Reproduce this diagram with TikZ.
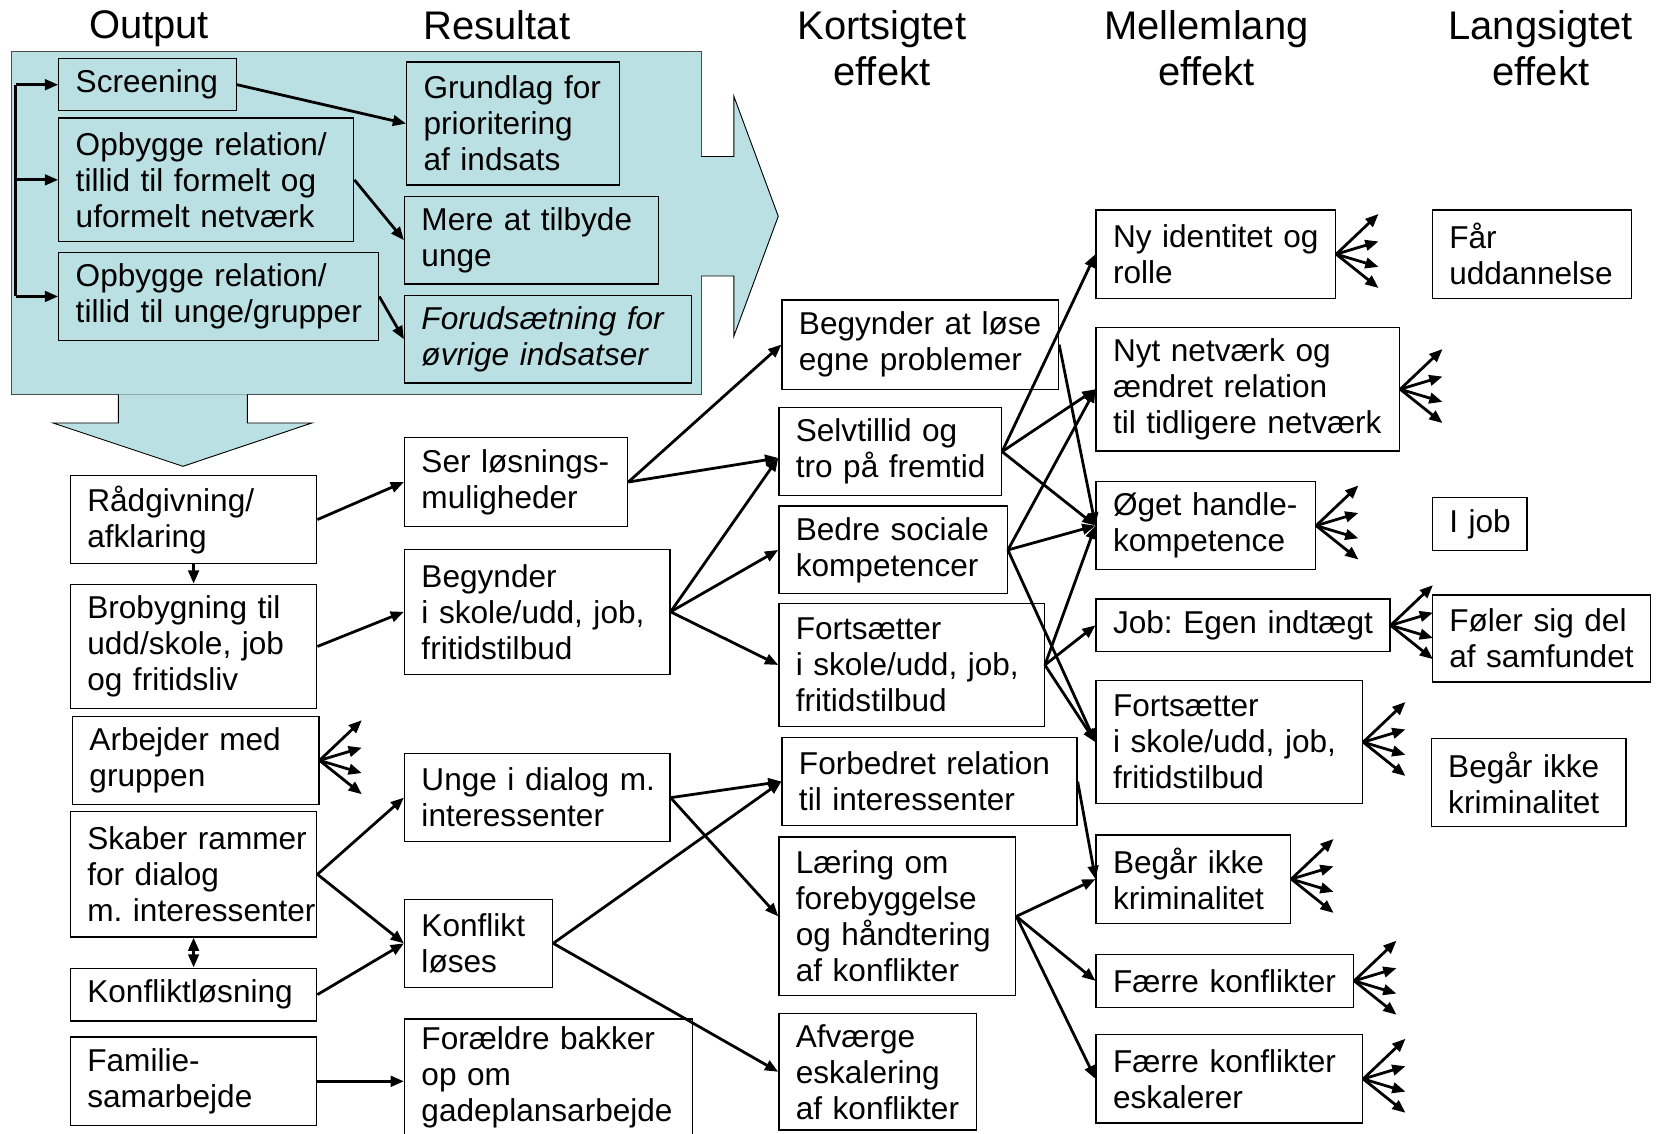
\documentclass[tikz,border=0pt]{standalone}
\usepackage{fontspec}
\setmainfont{Liberation Sans}
\usetikzlibrary{arrows.meta}
\definecolor{panelteal}{RGB}{187,224,227}

\newcommand{\fan}[1]{%
  \foreach \dy [count=\i] in {-38,-12,12,32} {
    \coordinate (#1f\i) at ([shift={(40,\dy)}]#1.east);
    \draw[arr] (#1.east) -- (#1f\i);
  }}

\begin{document}
\begin{tikzpicture}[x=0.02cm, y=-0.02cm,
    bx/.style={draw, line width=0.7pt, anchor=north west, inner xsep=0pt, inner ysep=0pt,
      align=left, font=\fontsize{17}{19.4}\selectfont\frenchspacing, execute at begin node={\leftskip=0.32cm}},
    hd/.style={anchor=north, inner sep=0pt, align=center, font=\fontsize{21.5}{24.5}\selectfont},
    arr/.style={-{Triangle[length=0.25cm,width=0.2cm]}, line width=1.5pt},
    blk/.style={fill=panelteal, draw=black, line width=0.5pt}]
        \useasboundingbox (0,0) rectangle (1568,1072);
        \clip (0,0) rectangle (1568,1072);

        \node[hd] (hout) at (141,10) {Output};
        \node[hd] (hres) at (470,10) {Resultat};
        \node[hd] (hkort) at (834,10) {Kortsigtet\\effekt};
        \node[hd] (hmell) at (1141,10) {Mellemlang\\effekt};
        \node[hd] (hlang) at (1457,10) {Langsigtet\\effekt};

        \fill[panelteal] (11,49) rectangle (663,373);
        \draw[black!70, line width=0.6pt] (11,49) rectangle (663,373);
        \filldraw[blk] (663,148) -- (694,148) -- (694,91) -- (736,204.5) -- (694,318) -- (694,261) -- (663,261);
        \filldraw[blk] (112,373) -- (112,400) -- (50,400) -- (173,441) -- (295,400) -- (234,400) -- (234,373);

        \node[bx, text width=3.36cm, minimum height=0.98cm] (scr) at (55,55) {Screening};
        \node[bx, text width=5.58cm, minimum height=2.34cm] (opb1) at (55,111) {Opbygge relation/\\tillid til formelt og\\uformelt netværk};
        \node[bx, text width=6.05cm, minimum height=1.67cm] (opb2) at (55,238) {Opbygge relation/\\tillid til unge/grupper};
        \node[bx, text width=4.02cm, minimum height=2.33cm] (grund) at (384,58) {Grundlag for\\prioritering\\af indsats};
        \node[bx, text width=4.80cm, minimum height=1.66cm] (mere) at (382,185) {Mere at tilbyde\\unge};
        \node[bx, text width=5.43cm, minimum height=1.65cm] (foru) at (382,279) {\itshape Forudsætning for\\øvrige indsatser};

        \node[bx, text width=4.66cm, minimum height=1.67cm] (raad) at (66,449) {Rådgivning/\\afklaring};
        \node[bx, text width=4.66cm, minimum height=2.35cm] (bro) at (66,552) {Brobygning til\\udd/skole, job\\og fritidsliv};
        \node[bx, text width=4.66cm, minimum height=1.66cm] (arb) at (68,677) {Arbejder med\\gruppen};
        \node[bx, text width=4.66cm, minimum height=2.37cm] (skab) at (66,767) {Skaber rammer\\for dialog\\m.~interessenter};
        \node[bx, text width=4.66cm, minimum height=1.0cm] (konfl) at (66,915) {Konfliktløsning};
        \node[bx, text width=4.66cm, minimum height=1.68cm] (fam) at (66,980) {Familie-\\samarbejde};

        \node[bx, text width=4.22cm, minimum height=1.69cm] (ser) at (382,413) {Ser løsnings-\\muligheder};
        \node[bx, text width=5.02cm, minimum height=2.36cm] (begy) at (382,519) {Begynder\\i skole/udd, job,\\fritidstilbud};
        \node[bx, text width=5.02cm, minimum height=1.67cm] (unge) at (382,712) {Unge i dialog m.\\interessenter};
        \node[bx, text width=2.80cm, minimum height=1.66cm] (losn) at (382,850) {Konflikt\\løses};
        \node[bx, text width=5.45cm, minimum height=2.2cm] (forae) at (382,963) {Forældre bakker\\op om\\gadeplansarbejde};

        \node[bx, text width=5.23cm, minimum height=1.69cm] (blose) at (739,283) {Begynder at løse\\egne problemer};
        \node[bx, text width=4.21cm, minimum height=1.66cm] (selv) at (736,385) {Selvtillid og\\tro på fremtid};
        \node[bx, text width=4.32cm, minimum height=1.66cm] (bedre) at (736,478) {Bedre sociale\\kompetencer};
        \node[bx, text width=5.02cm, minimum height=2.33cm] (forts1) at (736,570) {Fortsætter\\i skole/udd, job,\\fritidstilbud};
        \node[bx, text width=5.58cm, minimum height=1.66cm] (forb) at (739,697) {Forbedret relation\\til interessenter};
        \node[bx, text width=4.48cm, minimum height=3.0cm] (laer) at (736,791) {Læring om\\forebyggelse\\og håndtering\\af konflikter};
        \node[bx, text width=3.74cm, minimum height=2.2cm] (afv) at (736,958) {Afværge\\eskalering\\af konflikter};

        \node[bx, text width=4.53cm, minimum height=1.67cm] (nyid) at (1036,198) {Ny identitet og\\rolle};
        \node[bx, text width=5.74cm, minimum height=2.34cm] (nytn) at (1036,309) {Nyt netværk og\\ændret relation\\til tidligere netværk};
        \node[bx, text width=4.15cm, minimum height=1.66cm] (oget) at (1036,455) {Øget handle-\\kompetence};
        \node[bx, text width=5.56cm, minimum height=0.99cm] (job) at (1036,566) {Job: Egen indtægt};
        \node[bx, text width=5.04cm, minimum height=2.33cm] (forts2) at (1036,643) {Fortsætter\\i skole/udd, job,\\fritidstilbud};
        \node[bx, text width=3.68cm, minimum height=1.67cm] (begaa1) at (1036,789) {Begår ikke\\kriminalitet};
        \node[bx, text width=4.87cm, minimum height=1.0cm] (faerre) at (1036,902) {Færre konflikter};
        \node[bx, text width=5.04cm, minimum height=1.67cm] (faerre2) at (1036,978) {Færre konflikter\\eskalerer};

        \node[bx, text width=3.77cm, minimum height=1.67cm] (faar) at (1354,198) {Får\\uddannelse};
        \node[bx, text width=1.79cm, minimum height=1.0cm] (ijob) at (1354,470) {I job};
        \node[bx, text width=4.13cm, minimum height=1.65cm] (foler) at (1354,562) {Føler sig del\\af samfundet};
        \node[bx, text width=3.68cm, minimum height=1.66cm] (begaa2) at (1353,698) {Begår ikke\\kriminalitet};

        \coordinate (brk) at (15,0);
        \draw[line width=1.5pt] (scr.west -| brk) -- (opb2.west -| brk);
        \draw[arr] (scr.west -| brk) -- (scr.west);
        \draw[arr] (opb1.west -| brk) -- (opb1.west);
        \draw[arr] (opb2.west -| brk) -- (opb2.west);
        \draw[arr] (scr.east) -- (grund.west);
        \draw[arr] (opb1.east) -- (mere.west);
        \draw[arr] (opb2.east) -- (foru.west);

        \draw[arr] (raad.east) -- (ser.west);
        \draw[arr] (raad.south) -- (bro.north);
        \draw[arr] (bro.east) -- (begy.west);
        \draw[arr] (skab.east) -- (unge.west);
        \draw[arr] (skab.east) -- (losn.west);
        \draw[{Triangle[length=0.25cm,width=0.2cm]}-{Triangle[length=0.25cm,width=0.2cm]}, line width=1.5pt] (skab.south) -- (konfl.north);
        \draw[arr] (konfl.east) -- (losn.west);
        \draw[arr] (fam.east) -- (fam.east -| forae.west);
        \fan{arb}

        \draw[arr] (ser.east) -- (blose.west);
        \draw[arr] (ser.east) -- ([yshift=-0.12cm]selv.west);
        \draw[arr] (begy.east) -- ([yshift=-0.12cm]selv.west);
        \draw[arr] (begy.east) -- (bedre.west);
        \draw[arr] (begy.east) -- (forts1.west);
        \draw[arr] (unge.east) -- (forb.west);
        \draw[arr] (unge.east) -- (laer.west);
        \draw[arr] (losn.east) -- (forb.west);
        \draw[arr] (losn.east) -- (afv.west);

        \draw[arr] (selv.east) -- (nyid.west);
        \draw[arr] (selv.east) -- (nytn.west);
        \draw[arr] (selv.east) -- (oget.west);
        \draw[arr] (bedre.east) -- (nytn.west);
        \draw[arr] (bedre.east) -- (oget.west);
        \draw[arr] (bedre.east) -- (forts2.west);
        \draw[arr] (blose.east) -- (oget.west);
        \draw[arr] (forts1.east) -- (job.west);
        \draw[arr] (forts1.east) -- (oget.west);
        \draw[arr] (forts1.east) -- (forts2.west);
        \draw[arr] (forb.east) -- (begaa1.west);
        \draw[arr] (laer.east) -- (begaa1.west);
        \draw[arr] (laer.east) -- (faerre.west);
        \draw[arr] (laer.east) -- (faerre2.west);

        \fan{nyid}
        \fan{nytn}
        \fan{oget}
        \fan{job}
        \fan{forts2}
        \fan{begaa1}
        \fan{faerre}
        \fan{faerre2}

    \end{tikzpicture}
\end{document}
